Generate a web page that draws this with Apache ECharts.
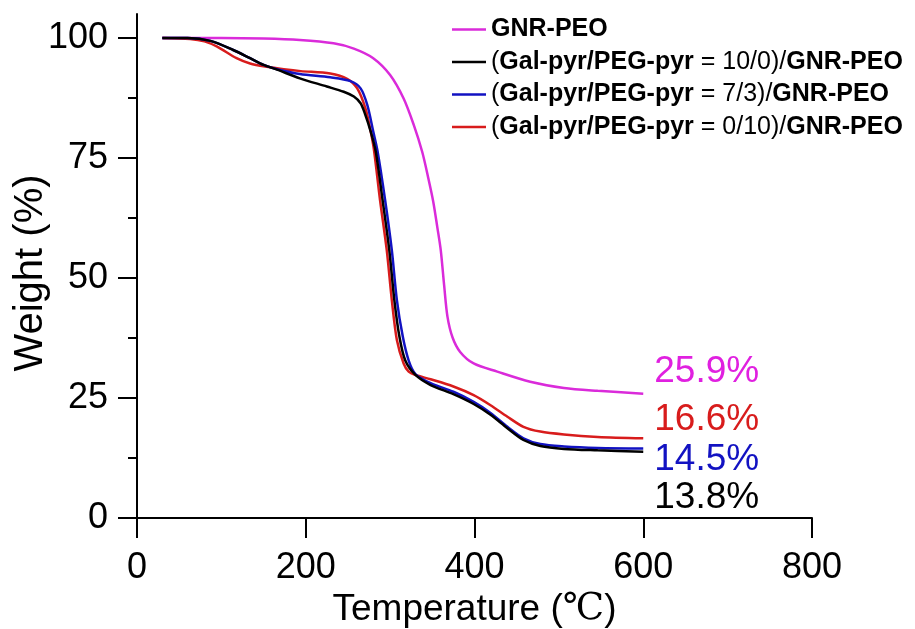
<!DOCTYPE html>
<html>
<head>
<meta charset="utf-8">
<script src="https://cdn.jsdelivr.net/npm/echarts@6/dist/echarts.min.js"></script>
<style>
  html, body { margin: 0; padding: 0; background: #fff; }
  #chart { width: 915px; height: 629px; }
</style>
</head>
<body>
<div id="chart"></div>
<script>
// TGA curves: weight remaining (%) versus temperature (°C)
const seriesNames = [
  'GNR-PEO',
  '(Gal-pyr/PEG-pyr = 10/0)/GNR-PEO',
  '(Gal-pyr/PEG-pyr = 7/3)/GNR-PEO',
  '(Gal-pyr/PEG-pyr = 0/10)/GNR-PEO'
];
const seriesColors = ['#DA2BDA', '#000000', '#1212C2', '#D81C1C'];
const labelColors = ['#E020E0', '#000000', '#1212C2', '#D81C1C'];

const tempGNR = [30, 100, 150, 193, 233, 257, 280, 300, 316, 328, 338, 345, 351, 356, 360, 364, 368, 374, 383, 399, 427, 466, 506, 546, 600];
const wtGNR   = [100, 100, 99.9, 99.6, 98.9, 97.8, 95.8, 92.3, 87.4, 81.9, 76.3, 71, 66, 60.5, 55.8, 48.5, 41.9, 37.6, 34.6, 32.2, 30.5, 28.4, 27.1, 26.5, 25.9];

const temp100 = [30, 60, 87, 114, 134, 150, 166, 193, 225, 245, 257, 265, 270, 277, 283, 291, 299, 305, 311, 318, 330, 348, 375, 399, 419, 439, 458, 478, 506, 546, 600];
const wt100   = [100, 100, 99.4, 97.5, 95.8, 94.4, 93.4, 91.6, 89.9, 88.8, 87.8, 86.4, 84.3, 80.5, 76.3, 66.3, 55.8, 45.4, 37.8, 32.8, 29.8, 27.7, 25.8, 23.75, 21.5, 18.7, 16.25, 15.0, 14.4, 14.1, 13.8];

const temp73 = [30, 60, 87, 114, 134, 150, 166, 193, 229, 253, 265, 273, 280, 285, 294, 302, 308, 315, 322, 330, 348, 375, 399, 419, 439, 458, 478, 506, 546, 600];
const wt73   = [100, 100, 99.4, 97.5, 95.8, 94.4, 93.5, 92.5, 91.8, 91.0, 89.5, 86.0, 80.5, 76.5, 66.3, 55.8, 45.4, 37.8, 32.8, 30.0, 28.1, 26.3, 24.2, 21.9, 19.0, 16.6, 15.4, 14.9, 14.6, 14.5];

const temp010 = [30, 63, 80, 95, 118, 134, 154, 174, 194, 229, 249, 261, 271, 277, 281, 288, 296, 302, 308, 316, 322, 330, 348, 375, 399, 419, 439, 458, 478, 506, 546, 600];
const wt010   = [100, 99.8, 99.3, 98.2, 95.8, 94.7, 94.0, 93.5, 93.1, 92.6, 91.5, 89.5, 85.2, 80.5, 76.5, 66.3, 55.8, 45.4, 37.1, 32.2, 30.5, 29.8, 28.9, 27.4, 25.6, 23.5, 21.1, 19.0, 18.0, 17.4, 16.9, 16.6];

const xTicks = [0, 200, 400, 600, 800];
const yTicks = [0, 25, 50, 75, 100];
const yMinorTicks = [12.5, 37.5, 62.5, 87.5];

// vertical shift of each residue label relative to its curve end
const endLabelShift = [-22, 46, 11, -19];

const FONT = "'Liberation Sans', Arial, Helvetica, sans-serif";

function zip(xs, ys) { return xs.map((x, i) => [x, ys[i]]); }
const curves = [zip(tempGNR, wtGNR), zip(temp100, wt100), zip(temp73, wt73), zip(temp010, wt010)];

// legend text: sample names in bold, punctuation and ratio in regular weight
function legendRich(name) {
  const parts = name.split(/(Gal-pyr\/PEG-pyr|GNR-PEO)/).filter(s => s.length);
  return parts.map(p => (p === 'Gal-pyr/PEG-pyr' || p === 'GNR-PEO') ? '{b|' + p + '}' : '{n|' + p + '}').join('');
}

const chart = echarts.init(document.getElementById('chart'), null, { renderer: 'canvas' });

chart.setOption({
  animation: false,
  backgroundColor: '#ffffff',
  textStyle: { fontFamily: FONT },
  grid: { left: 137, right: 103, top: 14, bottom: 111, containLabel: false, outerBoundsMode: 'none' },
  legend: {
    orient: 'vertical',
    left: 452,
    top: 17,
    padding: 0,
    icon: 'rect',
    itemWidth: 34,
    itemHeight: 2.5,
    itemGap: 7.5,
    data: seriesNames.slice(),
    formatter: legendRich,
    textStyle: {
      fontFamily: FONT,
      fontSize: 25,
      color: '#000',
      rich: {
        b: { fontFamily: FONT, fontSize: 25, fontWeight: 'bold', color: '#000' },
        n: { fontFamily: FONT, fontSize: 25, fontWeight: 'normal', color: '#000' }
      }
    }
  },
  xAxis: {
    type: 'value',
    min: 0,
    max: 800,
    interval: 200,
    name: 'Temperature ({c|℃})',
    nameLocation: 'middle',
    nameGap: 73,
    nameTextStyle: {
      fontFamily: FONT,
      fontSize: 37,
      color: '#000',
      rich: {
        c: { fontFamily: "'DejaVu Serif', 'Noto Serif', serif", fontSize: 37, color: '#000' }
      }
    },
    axisLine: { show: true, onZero: false, lineStyle: { color: '#000', width: 2 } },
    axisTick: { show: true, length: 20, lineStyle: { color: '#000', width: 2 }, customValues: xTicks },
    axisLabel: { fontFamily: FONT, fontSize: 36, color: '#000', margin: 32, customValues: xTicks },
    splitLine: { show: false }
  },
  yAxis: [
    {
      type: 'value',
      min: 0,
      max: 105,
      interval: 25,
      name: 'Weight (%)',
      nameLocation: 'middle',
      nameGap: 86,
      nameMoveOverlap: false,
      nameTextStyle: { fontFamily: FONT, fontSize: 40, color: '#000', padding: [0, 14, 0, 0] },
      axisLine: { show: true, onZero: false, lineStyle: { color: '#000', width: 2 } },
      axisTick: { show: true, length: 19, lineStyle: { color: '#000', width: 2 }, customValues: yTicks },
      axisLabel: { fontFamily: FONT, fontSize: 36, color: '#000', margin: 29, customValues: yTicks },
      splitLine: { show: false }
    },
    {
      // minor ticks halfway between the labelled ones
      type: 'value',
      min: 0,
      max: 105,
      interval: 12.5,
      position: 'left',
      axisLine: { show: false },
      axisTick: { show: true, length: 9, lineStyle: { color: '#000', width: 2 }, customValues: yMinorTicks },
      axisLabel: { show: false },
      splitLine: { show: false }
    }
  ],
  series: curves.map((data, i) => ({
    name: seriesNames[i],
    type: 'line',
    data: data,
    showSymbol: false,
    symbol: 'none',
    smooth: 0.3,
    z: i === 0 ? 2 : 3 + (3 - i),
    lineStyle: { color: seriesColors[i], width: 2.5 },
    itemStyle: { color: seriesColors[i] },
    endLabel: {
      show: true,
      formatter: p => p.value[1].toFixed(1) + '%',
      fontFamily: FONT,
      fontSize: 37,
      color: labelColors[i],
      distance: 11,
      offset: [0, endLabelShift[i]]
    },
    emphasis: { disabled: true }
  }))
});
</script>
</body>
</html>
